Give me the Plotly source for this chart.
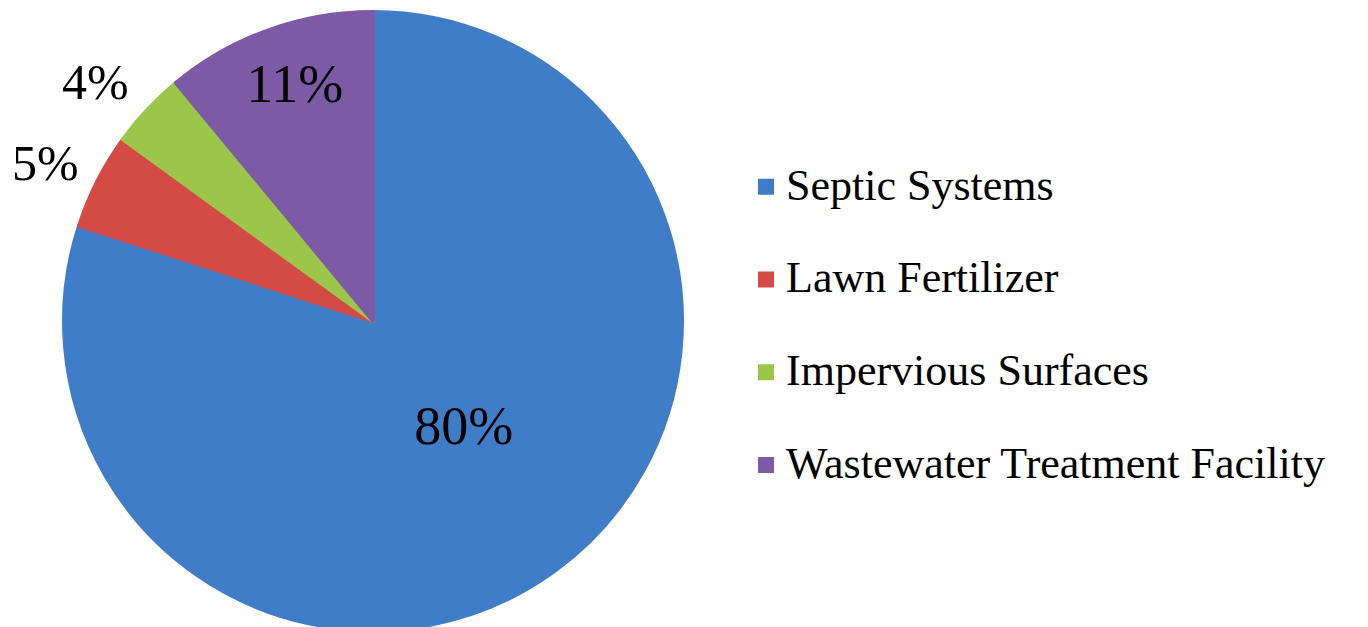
import plotly.graph_objects as go

categories = ["Septic Systems", "Lawn Fertilizer", "Impervious Surfaces", "Wastewater Treatment Facility"]
values = [80, 5, 4, 11]
colors = ["#3F7DC8", "#D44A45", "#9CC64A", "#7D5AA6"]
text_positions = ["inside", "outside", "outside", "inside"]

W, H = 1368, 627
cx, cy, r = 365, 313, 309

legend_labels = ["<span style='font-size:44px;baseline-shift:14px'>%s</span>" % c for c in categories]

inside_tpl = "<span style='font-size:54px'>%{percent:.0%}</span><br><span style='font-size:1px'>&nbsp;</span>"
outside_tpl = "<span style='font-size:50px'>%{percent:.0%}</span><br><span style='font-size:1px'>&nbsp;</span>"
templates = [inside_tpl if p == "inside" else outside_tpl for p in text_positions]

fig = go.Figure(go.Pie(
    labels=legend_labels,
    values=values,
    sort=False,
    direction="clockwise",
    rotation=0,
    marker=dict(colors=colors, line=dict(color=colors, width=4)),
    textinfo="percent",
    texttemplate=templates,
    textposition=text_positions,
    insidetextorientation="horizontal",
    outsidetextfont=dict(family="Liberation Serif", size=24, color="black"),
    insidetextfont=dict(family="Liberation Serif", size=40, color="black"),
    domain=dict(x=[(cx - r) / W, (cx + r) / W], y=[(H - cy - r) / H, (H - cy + r) / H]),
    automargin=False,
    hoverinfo="label+percent",
))

fig.update_layout(
    width=W, height=H,
    margin=dict(l=0, r=0, t=0, b=0),
    paper_bgcolor="white",
    plot_bgcolor="white",
    showlegend=True,
    legend=dict(
        x=738 / W, xanchor="left",
        y=1 - 318 / H, yanchor="middle",
        font=dict(family="Liberation Serif", size=69, color="black"),
        bgcolor="rgba(0,0,0,0)",
    ),
)

fig.write_html("out.html")
